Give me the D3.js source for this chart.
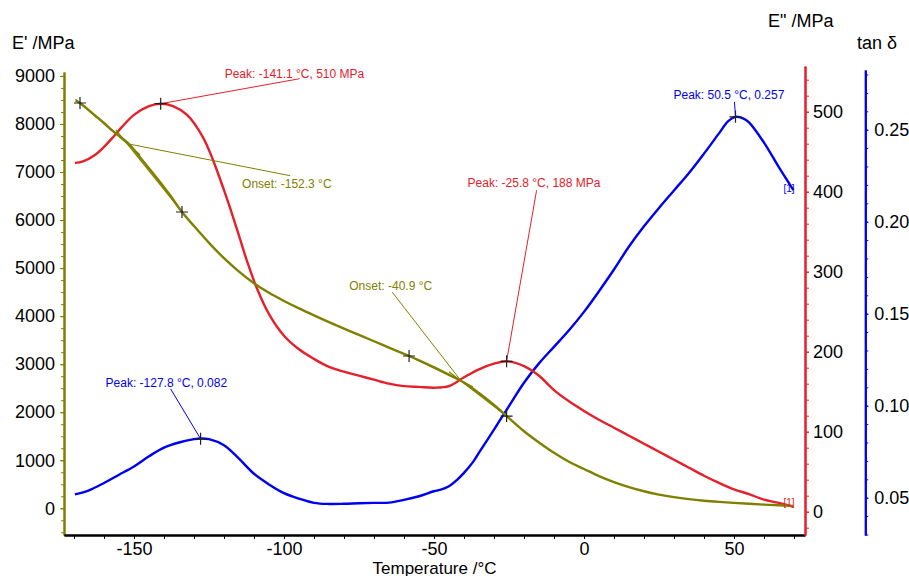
<!DOCTYPE html>
<html><head><meta charset="utf-8">
<script src="https://cdn.jsdelivr.net/npm/d3@7"></script>
<style>body{margin:0;background:#fff}svg{display:block;font-family:"Liberation Sans",Arial,sans-serif}</style>
</head><body><svg id="c" width="909" height="576"></svg>
<script>
// ---------------- data ----------------
const storageT = [-169.5,-168,-163,-160,-157,-152,-147,-142,-138,-134,-130,-125,-120,-115,-110,-105,-100,-95,-90,-85,-80,-75,-70,-65,-60,-58.3,-55,-50,-45,-40,-35,-30,-25.8,-25,-20,-15,-10,-5,0,5,10,15,20,25,30,35,40,45,50,55,60,65,69.8];
const storageMod = [8489,8437,8177,8021,7850,7604,7230,6845,6520,6168,5876,5526,5206,4926,4686,4486,4316,4161,4016,3876,3741,3609,3477,3345,3213,3170,3080,2935,2780,2620,2400,2150,1920,1876,1605,1370,1155,968,818,670,545,441,355,286,232,190,158,133,112,94,77,62,50];

const lossT = [-169.7,-167,-163,-160,-157,-154,-150,-145,-141.1,-137,-132.3,-127,-123.7,-120,-118,-115,-112.3,-109,-105,-100,-95,-90,-85,-80,-75,-70,-65,-60,-55,-50,-45,-40,-35,-30,-25.8,-20,-15,-10,-5,0,5,10,15,20,25,30,35,40,45,50,55,60,65,69.8];
const lossMod = [436,438,446,456,468,481,496,507,510,507,496,468,440,402,380,345,313,279,247,220,203,191,181,175,170,165,160,157,156,155,157,168,178,185,188,182,170,152,138,126,115,105,95,85,75,65,55,45,36,28,22,15,11,6];

const tanT = [-169.7,-165,-160,-155,-150,-145,-140,-135,-130,-127.8,-125,-120,-115,-110,-105,-100,-95,-90,-85,-80,-75,-70,-65,-60,-55,-50,-48,-45,-42.4,-40,-36.9,-35,-30,-28,-25,-20,-15,-10,-5,0,5,10,15,20,25,30,35,40,45,48,50.5,53,55,60,65,69.8];
const tanDelta = [0.0518,0.0540,0.0580,0.0625,0.0670,0.0725,0.0772,0.0800,0.0818,0.0822,0.0818,0.0785,0.0712,0.0630,0.0572,0.0525,0.0495,0.0472,0.0466,0.0467,0.0470,0.0472,0.0473,0.0488,0.0508,0.0535,0.0542,0.0562,0.0596,0.0635,0.0696,0.0745,0.0870,0.0922,0.0998,0.1125,0.1230,0.1320,0.1410,0.1510,0.1622,0.1740,0.1865,0.1975,0.2075,0.2170,0.2265,0.2370,0.2480,0.2545,0.2570,0.2562,0.2540,0.2430,0.2295,0.2172];

const tempTicks = [-150,-100,-50,0,50];
const storageTicks = [0,1000,2000,3000,4000,5000,6000,7000,8000,9000];
const lossTicks = [0,100,200,300,400,500];
const tanTicks = [0.05,0.10,0.15,0.20,0.25];

// markers (crosses) on the storage modulus curve
const storageMarkT = [-168,-134,-58.3,-25.8];
const storageMarkV = [8437,6168,3170,1920];
// onsets
const onsetT = [-152.3,-40.9];
const onsetV = [7590,2645];
const onsetText = ["Onset: -152.3 °C","Onset: -40.9 °C"];
// loss modulus peaks
const lossPeakT = [-141.1,-25.8];
const lossPeakV = [510,188];
const lossPeakText = ["Peak: -141.1 °C, 510 MPa","Peak: -25.8 °C, 188 MPa"];
// tan delta peaks
const tanPeakT = [-127.8,50.5];
const tanPeakV = [0.082,0.257];
const tanPeakText = ["Peak: -127.8 °C, 0.082","Peak: 50.5 °C, 0.257"];

// ---------------- drawing ----------------
const OLIVE = "#808000", RED = "#e6202a", BLUE = "#0000f0";
const svg = d3.select("#c");
const L = 64, R = 805, B = 535;

const x = d3.scaleLinear().domain([-173.33, 73.67]).range([L, R]);
const yS = d3.scaleLinear().domain([(508.3-535)/0.04804, (508.3-72)/0.04804]).range([B, 72]);
const yL = d3.scaleLinear().domain([(511.7-535)/0.8, (511.7-66)/0.8]).range([B, 66]);
const yT = d3.scaleLinear().domain([0.05-(535-497.7)/1840, 0.05+(497.7-70)/1840]).range([B, 70]);

const plainInt = d => String(Math.round(d));
function styleAxis(g, color, fs) {
  g.select(".domain").attr("stroke", color).attr("stroke-width", 2);
  g.selectAll(".tick line").attr("stroke", color).attr("stroke-width", 1);
  g.selectAll(".tick text").attr("fill", "#000").style("font-size", fs + "px")
    .style("font-family", '"Liberation Sans",Arial,sans-serif');
}

// left axis (E')
const minorS = d3.range(-500, 9001, 250).filter(v => v >= yS.domain()[0]);
svg.append("g").attr("transform", `translate(${L},0)`)
  .call(d3.axisLeft(yS).tickValues(minorS).tickSize(3).tickFormat("").tickSizeOuter(0))
  .call(g => styleAxis(g, OLIVE, 18));
svg.append("g").attr("transform", `translate(${L},0)`)
  .call(d3.axisLeft(yS).tickValues(storageTicks).tickSize(4).tickPadding(5).tickSizeOuter(0).tickFormat(plainInt))
  .call(g => styleAxis(g, OLIVE, 18));

// bottom axis
const minorT = d3.range(-170, 71, 10);
svg.append("g").attr("transform", `translate(0,${B})`)
  .call(d3.axisBottom(x).tickValues(minorT).tickSize(4).tickFormat("").tickSizeOuter(0))
  .call(g => styleAxis(g, "#000", 18));
svg.append("g").attr("transform", `translate(0,${B})`)
  .call(d3.axisBottom(x).tickValues(tempTicks).tickSize(4).tickPadding(3).tickSizeOuter(0).tickFormat(plainInt))
  .call(g => styleAxis(g, "#000", 18));

// red axis (E")
const minorL = d3.range(-20, 551, 20);
svg.append("g").attr("transform", `translate(${R},0)`)
  .call(d3.axisRight(yL).tickValues(minorL).tickSize(4).tickFormat("").tickSizeOuter(0))
  .call(g => styleAxis(g, RED, 18));
svg.append("g").attr("transform", `translate(${R},0)`)
  .call(d3.axisRight(yL).tickValues(lossTicks).tickSize(4).tickPadding(4).tickSizeOuter(0).tickFormat(plainInt))
  .call(g => styleAxis(g, RED, 18));

// blue axis (tan δ)
const BX = 865.3;
const minorTan = d3.range(3, 29, 1).map(v => v / 100);
svg.append("g").attr("transform", `translate(${BX},0)`)
  .call(d3.axisRight(yT).tickValues(minorTan).tickSize(3).tickFormat("").tickSizeOuter(0))
  .call(g => styleAxis(g, BLUE, 18));
svg.append("g").attr("transform", `translate(${BX},0)`)
  .call(d3.axisRight(yT).tickValues(tanTicks).tickSize(3).tickPadding(6).tickSizeOuter(0).tickFormat(d3.format(".2f")))
  .call(g => styleAxis(g, BLUE, 18));

// axis titles
const title = (t, xx, yy, anchor, fs) => svg.append("text").attr("x", xx).attr("y", yy)
  .attr("text-anchor", anchor || "start").style("font-size", (fs || 18) + "px").attr("fill", "#000").text(t);
title("E' /MPa", 12, 49);
title('E" /MPa', 768, 27);
title("tan δ", 857, 49);
title("Temperature /°C", (L + R) / 2, 573.5, "middle", 17);

// curves
const line = (yScale) => d3.line().x(d => x(d[0])).y(d => yScale(d[1])).curve(d3.curveCatmullRom.alpha(0.5));
const plot = svg.append("g");
plot.append("path").datum(tanT.map((t, i) => [t, tanDelta[i]]))
  .attr("d", line(yT)).attr("fill", "none").attr("stroke", BLUE).attr("stroke-width", 2.4);
plot.append("path").datum(lossT.map((t, i) => [t, lossMod[i]]))
  .attr("d", line(yL)).attr("fill", "none").attr("stroke", RED).attr("stroke-width", 2.4);
plot.append("path").datum(storageT.map((t, i) => [t, storageMod[i]]))
  .attr("d", line(yS)).attr("fill", "none").attr("stroke", OLIVE).attr("stroke-width", 2.4);

// tangent lines for onsets
const tangent = (t1, v1, t2, v2, ta, tb) => {
  const s = (v2 - v1) / (t2 - t1);
  plot.append("line").attr("x1", x(ta)).attr("y1", yS(v1 + s * (ta - t1)))
    .attr("x2", x(tb)).attr("y2", yS(v1 + s * (tb - t1)))
    .attr("stroke", OLIVE).attr("stroke-width", 1.2);
};
tangent(storageMarkT[0], storageMarkV[0], onsetT[0], onsetV[0], -169.5, -148);
tangent(onsetT[0], onsetV[0], storageMarkT[1], storageMarkV[1], -156, storageMarkT[1]);
tangent(storageMarkT[2], storageMarkV[2], onsetT[1], onsetV[1], storageMarkT[2], -37);
tangent(onsetT[1], onsetV[1], storageMarkT[3], storageMarkV[3], -45, storageMarkT[3]);

// annotation helper
const annoFont = 12;
function annotate(ax, ay, lx, ly, tx, ty, text, color) {
  svg.append("line").attr("x1", ax).attr("y1", ay).attr("x2", lx).attr("y2", ly)
    .attr("stroke", color).attr("stroke-width", 1);
  svg.append("text").attr("x", tx).attr("y", ty).attr("fill", color)
    .style("font-size", annoFont + "px").text(text);
}
function cross(cx, cy) {
  svg.append("path").attr("d", `M${cx - 6},${cy}H${cx + 6}M${cx},${cy - 6}V${cy + 6}`)
    .attr("stroke", "#222").attr("stroke-width", 1.2);
}

// loss peaks
const lp0 = [x(lossPeakT[0]), yL(lossPeakV[0])];
annotate(lp0[0], lp0[1], lp0[0] + 139, lp0[1] - 25, lp0[0] + 64, lp0[1] - 26, lossPeakText[0], RED);
const lp1 = [x(lossPeakT[1]), yL(lossPeakV[1])];
annotate(lp1[0], lp1[1], lp1[0] + 30, lp1[1] - 171, lp1[0] - 39, lp1[1] - 174, lossPeakText[1], RED);
// onsets
const on0 = [x(onsetT[0]), yS(onsetV[0])];
annotate(on0[0], on0[1], on0[0] + 163, on0[1] + 32, on0[0] + 115, on0[1] + 44, onsetText[0], OLIVE);
const on1 = [x(onsetT[1]), yS(onsetV[1])];
annotate(on1[0], on1[1], on1[0] - 69, on1[1] - 89, on1[0] - 112, on1[1] - 91, onsetText[1], OLIVE);
// tan peaks
const tp0 = [x(tanPeakT[0]), yT(tanPeakV[0])];
annotate(tp0[0], tp0[1], tp0[0] - 30, tp0[1] - 50, tp0[0] - 95, tp0[1] - 52, tanPeakText[0], BLUE);
const tp1 = [x(tanPeakT[1]), yT(tanPeakV[1])];
annotate(tp1[0], tp1[1], tp1[0] - 1, tp1[1] - 15, tp1[0] - 62, tp1[1] - 18, tanPeakText[1], BLUE);

// crosses
storageMarkT.forEach((t, i) => cross(x(t), yS(storageMarkV[i])));
lossPeakT.forEach((t, i) => cross(x(t), yL(lossPeakV[i])));
tanPeakT.forEach((t, i) => cross(x(t), yT(tanPeakV[i])));

// curve end tags
const lastT = tanT[tanT.length - 1];
svg.append("text").attr("x", x(lastT) - 10).attr("y", yT(tanDelta[tanDelta.length - 1]) + 2)
  .attr("fill", BLUE).style("font-size", "10px").text("[1]");
svg.append("text").attr("x", x(lossT[lossT.length - 1]) - 10).attr("y", yL(lossMod[lossMod.length - 1]) - 1)
  .attr("fill", RED).style("font-size", "10px").text("[1]");
</script></body></html>
